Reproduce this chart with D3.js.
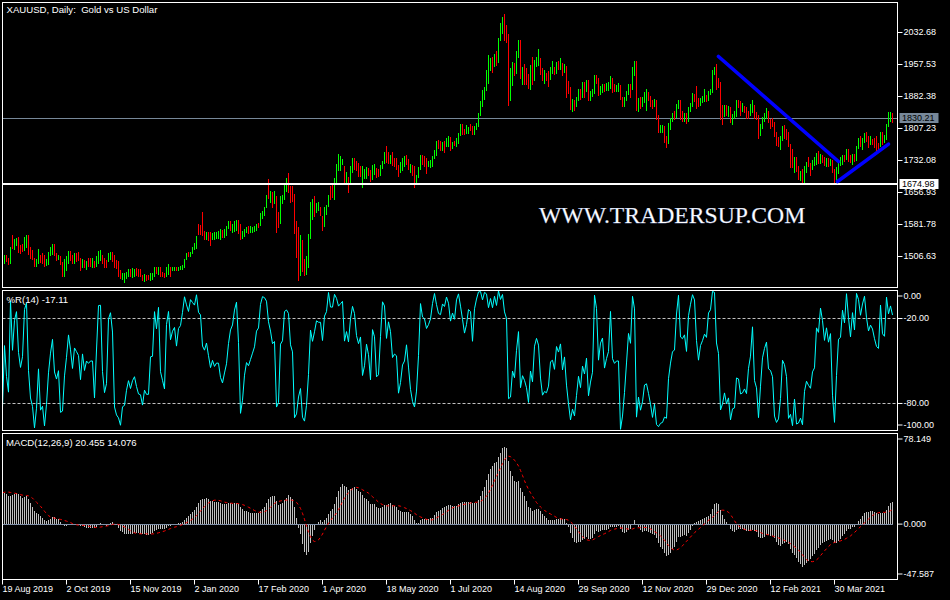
<!DOCTYPE html>
<html><head><meta charset="utf-8">
<script src="https://cdn.jsdelivr.net/npm/d3@7"></script>
<style>html,body{margin:0;padding:0;background:#000;overflow:hidden}svg{display:block}text{white-space:pre}</style>
</head><body><svg id="c" width="950" height="600"></svg>
<script>
// ---- DATA (XAUUSD daily, bar 0 = 19 Aug 2019) ----
const opens = [
1513,1496,1506,1501,1498,1540,1528,1541,1546,1527,1529,1525,1547,1551,1519,1506,1499,1487,1497,1507,
1503,1499,1488,1494,1515,1518,1532,1514,1503,1507,1492,1472,1490,1500,1510,1504,1494,1512,1510,1500,
1488,1496,1486,1497,1496,1485,1495,1486,1496,1504,1507,1496,1495,1496,1510,1513,1508,1493,1492,1470,
1456,1449,1458,1463,1474,1465,1468,1476,1473,1468,1462,1454,1462,1459,1455,1462,1463,1480,1470,1477,
1465,1464,1462,1472,1481,1475,1477,1480,1475,1478,1479,1485,1501,1513,1509,1516,1526,1528,1578,1570,
1575,1557,1552,1560,1553,1548,1551,1552,1556,1553,1562,1556,1563,1574,1582,1570,1574,1575,1589,1578,
1553,1556,1565,1575,1566,1566,1572,1573,1584,1582,1601,1610,1624,1670,1640,1650,1641,1643,1597,1590,
1635,1644,1670,1684,1671,1656,1642,1576,1527,1515,1528,1478,1471,1498,1553,1600,1635,1614,1617,1622,
1600,1580,1610,1628,1660,1668,1648,1684,1714,1716,1726,1716,1683,1690,1686,1713,1731,1727,1713,1716,
1680,1694,1700,1710,1706,1690,1705,1710,1703,1700,1716,1727,1756,1750,1732,1745,1736,1733,1720,1707,
1712,1720,1742,1734,1708,1720,1712,1684,1696,1714,1740,1735,1730,1725,1724,1726,1740,1755,1772,1765,
1762,1776,1768,1771,
1781,1770,1775,1774,1784,1795,1809,1803,1798,1802,1809,1808,1796,1810,1817,1843,1871,1889,1902,1941,
1958,1970,1958,1975,1969,2019,2038,2062,2035,2028,1911,1915,1954,1944,1985,2013,1929,1947,1940,1929,
1907,1954,1929,1964,1968,1971,1944,1930,1933,1932,1930,1946,1947,1941,1956,1955,1960,1944,1952,1912,
1900,1864,1868,1862,1880,1897,1887,1906,1899,1913,1877,1887,1893,1930,1922,1891,1902,1908,1900,1904,
1907,1924,1904,1902,1903,1908,1877,1868,1879,1894,1909,1904,1948,1951,1862,1877,1866,1873,1887,1888,
1880,1871,1860,1871,1837,1806,1810,1811,1788,1777,1815,1830,1841,1839,1863,1872,1839,1837,1840,1827,
1855,1864,1886,1882,1871,1864,1873,1876,1880,1878,1893,1895,1944,1950,1918,1913,1849,1845,1856,1845,
1851,1829,1840,1841,1871,1870,1855,1856,1850,1844,1843,1848,1860,1838,1835,1794,1814,1832,1838,1842,
1825,1824,1820,1795,1776,1775,1784,1808,1805,1797,1769,1734,1723,1738,1712,1697,1700,1683,1716,1726,
1722,1719,1731,1732,1745,1735,1745,1738,1727,1734,1726,1732,1712,1685,1708,1728,1729,1744,1737,1756,
1743,1732,1746,1736,1764,1777,1770,1779,1793,1783,1777,1780,1778,1773,1769,1768,1792,1779,1785,1815,
1831,1836];
const highs = [
1515,1511,1509,1504,1530,1556,1547,1550,1552,1534,1535,1552,1557,1556,1528,1521,1503,1500,1525,1511,
1515,1509,1501,1518,1529,1536,1536,1515,1511,1508,1494,1500,1507,1520,1519,1511,1516,1515,1517,1504,
1501,1499,1495,1503,1502,1503,1497,1507,1520,1521,1511,1503,1499,1516,1518,1517,1511,1499,1497,1475,
1469,1467,1471,1478,1478,1479,1478,1480,1478,1477,1464,1466,1464,1463,1467,1469,1483,1483,1483,1481,
1471,1469,1482,1490,1483,1483,1483,1481,1483,1485,1486,1501,1516,1518,1518,1530,1538,1555,1583,1580,
1611,1566,1565,1563,1563,1561,1563,1563,1567,1571,1568,1572,1579,1591,1589,1583,1589,1593,1593,1583,
1567,1572,1577,1579,1579,1577,1579,1583,1586,1608,1614,1624,1651,1689,1660,1657,1661,1648,1610,1649,
1652,1677,1692,1703,1673,1672,1654,1590,1575,1556,1546,1500,1507,1559,1634,1641,1648,1632,1635,1624,
1602,1622,1628,1651,1673,1675,1690,1724,1747,1743,1735,1718,1706,1694,1720,1738,1738,1730,1726,1720,
1718,1713,1716,1714,1710,1722,1724,1714,1712,1722,1732,1752,1765,1751,1745,1751,1738,1738,1722,1728,
1738,1742,1745,1736,1724,1722,1718,1697,1716,1745,1745,1743,1737,1732,1733,1743,1757,1779,1781,1777,
1775,1778,1785,1789,
1788,1776,1777,1786,1797,1818,1818,1806,1815,1810,1818,1812,1812,1821,1844,1872,1898,1904,1945,1981,
1972,1974,1983,1990,2020,2055,2070,2075,2050,2030,1950,1964,1961,1990,2015,2016,1952,1958,1950,1936,
1956,1976,1968,1975,1993,1973,1950,1945,1937,1942,1952,1965,1951,1964,1966,1973,1962,1959,1955,1918,
1904,1876,1873,1882,1900,1899,1917,1917,1920,1921,1895,1899,1933,1932,1925,1908,1912,1912,1913,1917,
1931,1925,1912,1910,1915,1910,1881,1882,1895,1911,1911,1952,1965,1966,1880,1882,1881,1892,1900,1894,
1883,1874,1876,1875,1840,1815,1815,1812,1790,1820,1833,1843,1848,1865,1875,1875,1848,1843,1843,1857,
1868,1890,1889,1907,1880,1879,1884,1900,1886,1896,1901,1945,1952,1959,1926,1917,1863,1862,1863,1860,
1857,1841,1849,1875,1875,1872,1867,1860,1857,1848,1865,1875,1862,1845,1838,1817,1835,1843,1855,1848,
1829,1833,1822,1799,1788,1790,1813,1816,1806,1800,1770,1760,1740,1740,1720,1707,1712,1720,1728,1740,
1726,1734,1741,1750,1755,1747,1746,1740,1738,1737,1736,1733,1713,1716,1733,1740,1746,1745,1758,1759,
1746,1748,1748,1766,1784,1790,1784,1797,1798,1790,1789,1783,1785,1790,1774,1799,1799,1793,1818,1846,
1845,1844];
const lows = [
1492,1492,1495,1490,1492,1526,1524,1534,1517,1516,1519,1522,1530,1513,1503,1500,1485,1485,1491,1493,
1491,1485,1486,1489,1509,1513,1511,1499,1500,1489,1461,1460,1474,1491,1499,1491,1492,1495,1499,1474,
1483,1483,1477,1484,1485,1481,1481,1484,1491,1498,1491,1483,1483,1495,1500,1497,1483,1479,1460,1456,
1453,1446,1455,1460,1461,1458,1460,1464,1461,1461,1452,1450,1452,1453,1452,1453,1461,1467,1466,1460,
1460,1458,1461,1466,1462,1474,1474,1474,1474,1477,1477,1483,1500,1507,1508,1514,1525,1527,1560,1559,
1556,1547,1547,1546,1534,1547,1547,1550,1551,1548,1552,1552,1558,1573,1569,1563,1567,1569,1562,1548,
1550,1554,1564,1562,1563,1564,1567,1569,1577,1580,1597,1604,1622,1644,1635,1624,1633,1563,1575,1585,
1632,1641,1661,1659,1634,1638,1562,1505,1451,1464,1472,1463,1466,1483,1550,1595,1602,1611,1616,1605,
1569,1578,1607,1626,1641,1647,1641,1679,1709,1710,1724,1681,1681,1659,1681,1705,1713,1709,1695,1696,
1671,1690,1691,1699,1683,1688,1701,1693,1696,1698,1714,1726,1728,1726,1727,1722,1720,1713,1695,1706,
1710,1718,1724,1711,1706,1698,1671,1678,1694,1712,1725,1720,1702,1718,1716,1720,1738,1745,1761,1757,
1757,1752,1765,1765,
1757,1762,1768,1766,1774,1793,1795,1794,1797,1797,1804,1795,1795,1805,1814,1840,1861,1877,1898,1914,
1944,1940,1953,1957,1963,2015,2032,2015,2010,1863,1875,1910,1934,1938,1975,1926,1912,1911,1912,1902,
1900,1911,1921,1955,1957,1936,1920,1915,1922,1906,1924,1937,1936,1937,1948,1948,1932,1939,1882,1890,
1854,1848,1850,1859,1873,1877,1882,1882,1895,1874,1873,1883,1890,1913,1886,1889,1893,1895,1897,1898,
1903,1893,1896,1895,1895,1876,1860,1859,1873,1889,1882,1900,1934,1850,1848,1856,1859,1869,1851,1875,
1859,1855,1859,1830,1800,1800,1800,1775,1764,1774,1806,1826,1830,1834,1856,1830,1825,1824,1820,1825,
1849,1860,1872,1856,1860,1862,1870,1872,1871,1874,1888,1893,1935,1901,1905,1829,1817,1836,1838,1836,
1822,1817,1832,1836,1858,1840,1848,1845,1832,1831,1838,1846,1831,1830,1785,1791,1808,1826,1833,1822,
1808,1813,1790,1769,1765,1760,1780,1784,1782,1765,1717,1717,1705,1707,1688,1687,1676,1680,1704,1718,
1697,1712,1722,1725,1727,1726,1728,1722,1720,1720,1722,1705,1680,1677,1703,1721,1725,1730,1735,1730,
1728,1725,1732,1734,1762,1765,1760,1776,1777,1764,1771,1770,1763,1756,1760,1765,1771,1775,1782,1814,
1825,1822];
const closes = [
1496,1506,1501,1497,1527,1528,1542,1546,1527,1520,1525,1547,1551,1519,1506,1502,1487,1497,1517,1496,
1498,1488,1499,1515,1525,1532,1515,1504,1507,1492,1472,1490,1500,1512,1504,1494,1505,1503,1501,1488,
1493,1486,1490,1489,1490,1497,1485,1500,1515,1516,1494,1487,1490,1512,1514,1508,1488,1484,1466,1459,
1465,1460,1468,1472,1468,1472,1474,1469,1465,1463,1456,1461,1455,1455,1464,1466,1478,1474,1479,1464,
1462,1460,1475,1484,1476,1479,1480,1475,1480,1482,1485,1499,1510,1509,1514,1524,1530,1552,1566,1564,
1557,1553,1561,1549,1541,1556,1555,1558,1561,1558,1556,1566,1571,1582,1575,1577,1583,1588,1576,1553,
1558,1566,1570,1569,1571,1573,1575,1580,1581,1602,1611,1620,1643,1658,1650,1641,1643,1585,1589,1641,
1644,1670,1674,1680,1649,1642,1576,1530,1513,1528,1477,1470,1498,1553,1632,1612,1629,1625,1622,1608,
1578,1612,1620,1648,1648,1650,1684,1714,1727,1730,1733,1683,1695,1682,1713,1731,1727,1713,1707,1712,
1694,1700,1711,1702,1688,1716,1712,1697,1698,1716,1727,1743,1733,1744,1741,1726,1728,1727,1709,1718,
1727,1730,1738,1727,1716,1710,1685,1694,1714,1738,1731,1730,1725,1727,1730,1738,1755,1768,1763,1762,
1771,1771,1781,1781,
1770,1775,1774,1784,1795,1809,1803,1798,1802,1809,1808,1796,1810,1817,1843,1871,1889,1902,1941,1958,
1970,1958,1975,1969,2019,2038,2062,2035,2028,1911,1915,1954,1944,1985,2013,1929,1947,1940,1929,1907,
1954,1929,1964,1968,1971,1944,1930,1933,1932,1930,1946,1947,1941,1956,1955,1960,1944,1952,1912,1900,
1864,1868,1862,1880,1897,1887,1906,1899,1913,1877,1887,1893,1930,1922,1891,1902,1908,1900,1904,1907,
1924,1904,1902,1903,1908,1877,1868,1879,1894,1909,1904,1948,1951,1862,1877,1866,1873,1887,1888,1880,
1871,1860,1871,1837,1806,1810,1811,1788,1777,1815,1830,1841,1839,1863,1872,1839,1837,1840,1827,1855,
1864,1886,1882,1871,1864,1873,1876,1880,1878,1893,1895,1944,1950,1918,1913,1849,1845,1856,1845,1851,
1829,1840,1841,1871,1870,1855,1856,1850,1844,1843,1848,1860,1838,1835,1794,1814,1832,1838,1842,1825,
1824,1820,1795,1776,1775,1784,1808,1805,1797,1769,1734,1723,1738,1712,1697,1700,1683,1716,1726,1722,
1719,1731,1732,1745,1735,1745,1738,1727,1734,1726,1732,1712,1685,1708,1728,1729,1744,1737,1756,1743,
1732,1746,1736,1764,1777,1770,1779,1793,1783,1777,1780,1778,1773,1769,1768,1792,1779,1785,1815,1831,
1836,1830.21];
// closes before the first visible bar (indicator history)
const preCloses = [1283,1284,1284,1278,1280,1288,1305,1327,1325,1333,1336,1341,1327,1326,1334,1342,1341,1340,
1346,1360,1392,1399,1419,1423,1408,1411,1409,1384,1418,1420,1414,1400,1395,1397,1419,1403,1415,1413,1406,1427,
1446,1426,1424,1417,1426,1415,1419,1426,1430,1413,1444,1440,1464,1474,1501,1500,1497,1512,1501,1516,1523,1514];

const dateTickLabels = ["19 Aug 2019","2 Oct 2019","15 Nov 2019","2 Jan 2020","17 Feb 2020","1 Apr 2020",
  "18 May 2020","1 Jul 2020","14 Aug 2020","29 Sep 2020","12 Nov 2020","29 Dec 2020","12 Feb 2021","30 Mar 2021"];
const dateTickBars = [0,32,64,96,128,160,192,224,256,288,320,352,384,416];
const priceTicks = [2032.68,1957.53,1882.38,1807.23,1732.08,1656.93,1581.78,1506.63];
const wprTicks = [0,-20,-80,-100];
const wprLevels = [-20,-80];
const macdTicks = [78.149,0,-47.587];
const bidPrice = [1830.21];
const hLinePrice = [1674.98];
// trend lines: [bar1, price1, bar2, price2]
const trendLines = [[358.0,1976.3,418.0,1729.7],[417.5,1682.8,443.0,1770.6]];
const titleText = ["XAUUSD, Daily:  Gold vs US Dollar"];
const wprHeader = ["%R(14) -17.11"];
const macdHeader = ["MACD(12,26,9) 20.455 14.076"];
const watermark = ["WWW.TRADERSUP.COM"];

// ---- INDICATORS ----
const N = closes.length;
const allC = preCloses.concat(closes);
function ema(arr, n){ const a=2/(n+1); const out=[]; let e=arr[0]; arr.forEach((v,i)=>{ e = i===0? v : e + a*(v-e); out.push(e);}); return out; }
const e12 = ema(allC,12), e26 = ema(allC,26);
const macdAll = allC.map((v,i)=>e12[i]-e26[i]);
const sigAll = macdAll.map((v,i)=>{ const s=Math.max(0,i-8); return d3.mean(macdAll.slice(s,i+1)); });
const off = preCloses.length;
const macdV = macdAll.slice(off), sigV = sigAll.slice(off);
const wpr = closes.map((c,i)=>{ const s=Math.max(0,i-13); const hh=d3.max(highs.slice(s,i+1)), ll=d3.min(lows.slice(s,i+1)); return hh===ll?0:-(hh-c)/(hh-ll)*100; });

// ---- LAYOUT ----
const svg = d3.select('#c');
const FONT = "'Liberation Sans', Arial, sans-serif";
svg.append('rect').attr('width',950).attr('height',600).attr('fill','#000');
const L=2.5, R=897.5;
const P = {main:[2.5,287.5], wpr:[290.5,430.5], macd:[433.5,579.5]};
const x = d3.scaleLinear().domain([0,N-1]).range([2.5, 2.5+2*(N-1)]);
const yP = d3.scaleLinear().domain([1506.63,2032.68]).range([256.5,32.5]);
const yW = d3.scaleLinear().domain([-100,0]).range([431.8,290.2]);
const yM = d3.scaleLinear().domain([-47.587,78.149]).range([579,434]);

const defs = svg.append('defs');
Object.entries(P).forEach(([k,[t,b]])=>{
  defs.append('clipPath').attr('id','clip-'+k).append('rect').attr('x',L+0.5).attr('y',t+0.5).attr('width',R-L-1).attr('height',b-t-1);
});

// ---- MAIN PANEL ----
const gm = svg.append('g').attr('clip-path','url(#clip-main)');
gm.append('text').text(watermark[0]).attr('x',539).attr('y',222.5)
  .attr('font-family',"'Liberation Serif','Times New Roman',serif").attr('font-size',23.7)
  .attr('fill','#ffffff').attr('stroke','#9fb4e0').attr('stroke-width',0.25);
gm.selectAll('line.bid').data(bidPrice).join('line').attr('class','bid')
  .attr('x1',L).attr('x2',R).attr('y1',d=>Math.floor(yP(d))+0.5).attr('y2',d=>Math.floor(yP(d))+0.5)
  .attr('stroke','#778899').attr('stroke-width',1);
gm.selectAll('line.bar').data(d3.range(N)).join('line').attr('class','bar')
  .attr('x1',i=>x(i)).attr('x2',i=>x(i))
  .attr('y1',i=>Math.round(yP(highs[i]))).attr('y2',i=>Math.round(yP(lows[i]))+1)
  .attr('stroke',i=>closes[i]>=opens[i]?'#00ff00':'#ff0000').attr('stroke-width',1);
gm.selectAll('line.hl').data(hLinePrice).join('line').attr('class','hl')
  .attr('x1',L).attr('x2',R).attr('y1',d=>Math.floor(yP(d))).attr('y2',d=>Math.floor(yP(d)))
  .attr('stroke','#ffffff').attr('stroke-width',2);
gm.selectAll('line.tl').data(trendLines).join('line').attr('class','tl')
  .attr('x1',d=>x(d[0])).attr('y1',d=>yP(d[1])).attr('x2',d=>x(d[2])).attr('y2',d=>yP(d[3]))
  .attr('stroke','#0000ff').attr('stroke-width',3.6).attr('stroke-linecap','round');

// ---- %R PANEL ----
const gw = svg.append('g').attr('clip-path','url(#clip-wpr)');
gw.selectAll('line.lvl').data(wprLevels).join('line').attr('class','lvl')
  .attr('x1',L).attr('x2',R).attr('y1',d=>Math.floor(yW(d))+0.5).attr('y2',d=>Math.floor(yW(d))+0.5)
  .attr('stroke','#c0c0c0').attr('stroke-dasharray','3,2');
gw.append('path').datum(d3.range(N)).attr('fill','none').attr('stroke','#00ffff').attr('stroke-width',1)
  .attr('d', d3.line().x(i=>x(i)).y(i=>yW(wpr[i])));

// ---- MACD PANEL ----
const gc = svg.append('g').attr('clip-path','url(#clip-macd)');
gc.selectAll('line.h').data(d3.range(N)).join('line').attr('class','h')
  .attr('x1',i=>x(i)).attr('x2',i=>x(i))
  .attr('y1',()=>Math.round(yM(0))).attr('y2',i=>Math.round(yM(macdV[i])))
  .attr('stroke','#c0c0c0').attr('stroke-width',1);
gc.append('line').attr('x1',L).attr('x2',x(N-1)+0.5)
  .attr('y1',Math.round(yM(0))+0.5).attr('y2',Math.round(yM(0))+0.5)
  .attr('stroke','#8090a8').attr('stroke-width',1);
gc.append('path').datum(d3.range(N)).attr('fill','none').attr('stroke','#ff0000').attr('stroke-width',1)
  .attr('stroke-dasharray','3,3')
  .attr('d', d3.line().x(i=>x(i)).y(i=>yM(sigV[i])));

// ---- FRAMES ----
Object.values(P).forEach(([t,b])=>{
  svg.append('rect').attr('x',L).attr('y',t).attr('width',R-L).attr('height',b-t)
    .attr('fill','none').attr('stroke','#ffffff').attr('stroke-width',1);
});

// ---- AXES ----
function styleAxis(g){
  g.select('.domain').remove();
  g.selectAll('line').attr('stroke','#ffffff');
  g.selectAll('text').attr('fill','#ffffff').attr('font-family',FONT).attr('font-size',9);
}
const axP = svg.append('g').attr('transform',`translate(${R},0)`)
  .call(d3.axisRight(yP).tickValues(priceTicks).tickSize(5).tickPadding(1).offset(0).tickFormat(d=>d.toFixed(2)));
styleAxis(axP);
function clampTicks(g, scale, t, b){
  g.selectAll('.tick').attr('transform', d=>`translate(0,${Math.max(t+5.5, Math.min(b-5.5, scale(d)))})`);
}
const axW = svg.append('g').attr('transform',`translate(${R},0)`)
  .call(d3.axisRight(yW).tickValues(wprTicks).tickSize(5).tickPadding(1).offset(0).tickFormat(d=>d.toFixed(2)));
styleAxis(axW); clampTicks(axW, yW, P.wpr[0], P.wpr[1]);
const axM = svg.append('g').attr('transform',`translate(${R},0)`)
  .call(d3.axisRight(yM).tickValues(macdTicks).tickSize(5).tickPadding(1).offset(0).tickFormat(d=>d.toFixed(3)));
styleAxis(axM); clampTicks(axM, yM, P.macd[0], P.macd[1]);
const axX = svg.append('g').attr('transform',`translate(0,${P.macd[1]})`)
  .call(d3.axisBottom(x).tickValues(dateTickBars).tickSize(5).tickPadding(1).offset(0).tickFormat((d,i)=>dateTickLabels[i]));
styleAxis(axX);
axX.selectAll('text').attr('text-anchor','start').attr('x',0);

// ---- PRICE LABEL BOXES ----
function priceBox(v, fill, txt){
  const yy = Math.floor(yP(v));
  svg.append('rect').attr('x',899.5).attr('y',yy-5).attr('width',39).attr('height',10).attr('fill',fill);
  svg.append('text').text(v.toFixed(2)).attr('x',902).attr('y',yy).attr('dy','0.34em')
    .attr('fill',txt).attr('font-family',FONT).attr('font-size',9);
}
priceBox(bidPrice[0], '#778899', '#000000');
priceBox(hLinePrice[0], '#ffffff', '#000000');

// ---- HEADERS ----
const hdr = (t,xx,yy,fs)=>svg.append('text').text(t).attr('x',xx).attr('y',yy)
  .attr('fill','#ffffff').attr('font-family',FONT).attr('font-size',fs).attr('xml:space','preserve');
hdr(titleText[0],6.5,13,9.6);
hdr(wprHeader[0],6.5,302.5,9.6);
hdr(macdHeader[0],6,445.5,9.6);
</script>
</body></html>
